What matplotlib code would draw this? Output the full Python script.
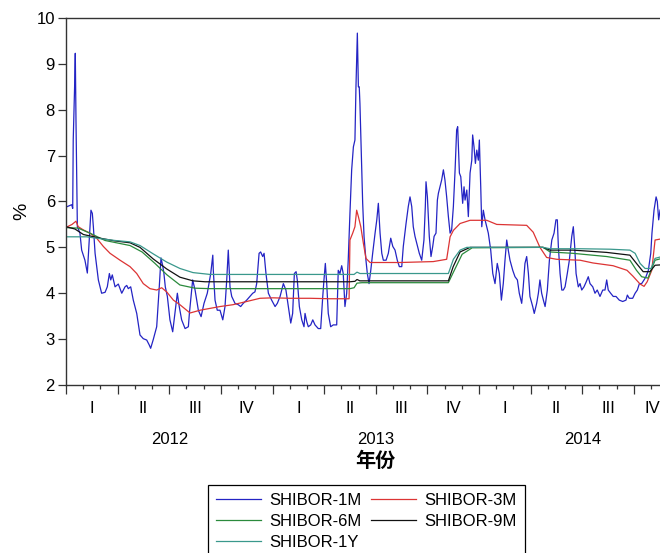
import matplotlib
matplotlib.use("Agg")
import matplotlib.pyplot as plt
import matplotlib.transforms as mtransforms
from matplotlib.ticker import MultipleLocator, NullFormatter

plt.rcParams["font.family"] = ["Liberation Sans", "DejaVu Sans"]

# time axis: months since 2012-01-01
t_1m = [0.08, 0.33, 0.39, 0.42, 0.50, 0.54, 0.58, 0.62, 0.66, 0.81,
        0.91, 1.10, 1.24, 1.35, 1.45, 1.53, 1.59, 1.69, 1.88, 2.07,
        2.27, 2.40, 2.52, 2.60, 2.69, 2.85, 3.04, 3.24, 3.43, 3.53,
        3.62, 3.76, 3.91, 4.11, 4.30, 4.49, 4.69, 4.84, 4.92, 5.07,
        5.27, 5.42, 5.52, 5.62, 5.69, 5.77, 5.89, 6.04, 6.20, 6.33,
        6.47, 6.58, 6.72, 6.92, 7.11, 7.17, 7.36, 7.50, 7.69, 7.85,
        8.02, 8.21, 8.41, 8.53, 8.56, 8.66, 8.79, 8.95, 9.11, 9.24,
        9.34, 9.43, 9.53, 9.63, 9.82, 10.01, 10.15, 10.30, 10.50, 10.69,
        10.85, 10.98, 11.08, 11.22, 11.31, 11.43, 11.51, 11.62, 11.76, 11.95,
        12.15, 12.28, 12.44, 12.63, 12.78, 12.92, 13.06, 13.17, 13.27, 13.37,
        13.44, 13.56, 13.70, 13.83, 13.89, 13.99, 14.08, 14.22, 14.34, 14.47,
        14.66, 14.80, 14.92, 14.99, 15.07, 15.15, 15.24, 15.38, 15.53, 15.73,
        15.82, 15.92, 16.02, 16.11, 16.21, 16.31, 16.40, 16.50, 16.60, 16.70,
        16.79, 16.85, 16.93, 16.99, 17.04, 17.08, 17.16, 17.24, 17.32, 17.43,
        17.51, 17.61, 17.71, 17.82, 17.96, 18.06, 18.15, 18.25, 18.35, 18.44,
        18.60, 18.73, 18.87, 18.99, 19.12, 19.25, 19.37, 19.51, 19.60, 19.76,
        19.89, 19.99, 20.09, 20.18, 20.28, 20.38, 20.53, 20.67, 20.80, 20.88,
        20.92, 21.00, 21.11, 21.21, 21.31, 21.39, 21.50, 21.58, 21.64, 21.73,
        21.83, 21.93, 22.02, 22.12, 22.22, 22.32, 22.41, 22.51, 22.61, 22.70,
        22.76, 22.86, 22.94, 23.05, 23.13, 23.19, 23.29, 23.38, 23.48, 23.58,
        23.63, 23.71, 23.79, 23.87, 23.96, 24.02, 24.10, 24.16, 24.25, 24.35,
        24.54, 24.68, 24.80, 24.93, 25.06, 25.18, 25.30, 25.41, 25.51, 25.61,
        25.70, 25.80, 25.96, 26.09, 26.23, 26.34, 26.48, 26.57, 26.67, 26.77,
        26.87, 26.96, 27.12, 27.21, 27.35, 27.45, 27.54, 27.64, 27.74, 27.84,
        27.97, 28.09, 28.23, 28.36, 28.47, 28.55, 28.61, 28.71, 28.81, 28.90,
        29.00, 29.13, 29.25, 29.39, 29.48, 29.56, 29.64, 29.77, 29.87, 29.97,
        30.10, 30.22, 30.35, 30.45, 30.61, 30.74, 30.87, 31.03, 31.19, 31.32,
        31.42, 31.51, 31.65, 31.80, 31.96, 32.15, 32.35, 32.54, 32.62, 32.73,
        32.93, 33.07, 33.20, 33.32, 33.45, 33.59, 33.70, 33.84, 33.98, 34.05,
        34.17, 34.29, 34.36, 34.44, 34.52, 34.63]
shibor_1m = [5.89, 5.93, 5.85, 7.34, 8.50, 9.23, 7.78, 6.62, 5.45, 5.31,
             4.94, 4.72, 4.44, 5.16, 5.81, 5.74, 5.45, 4.87, 4.29, 4.00,
             4.02, 4.14, 4.43, 4.29, 4.40, 4.14, 4.20, 4.00, 4.14, 4.17,
             4.10, 4.14, 3.85, 3.56, 3.09, 3.01, 2.98, 2.87, 2.80, 2.99,
             3.27, 4.14, 4.77, 4.60, 4.43, 4.14, 3.93, 3.42, 3.16, 3.56,
             4.00, 3.71, 3.42, 3.23, 3.27, 3.56, 4.29, 4.07, 3.63, 3.49,
             3.78, 4.00, 4.43, 4.83, 4.50, 3.85, 3.63, 3.63, 3.42, 3.71,
             4.29, 4.94, 4.14, 3.93, 3.78, 3.75, 3.71, 3.78, 3.85, 3.93,
             4.00, 4.03, 4.21, 4.87, 4.90, 4.80, 4.87, 4.43, 4.00, 3.85,
             3.71, 3.78, 3.93, 4.21, 4.07, 3.71, 3.35, 3.56, 4.43, 4.47,
             4.29, 3.71, 3.42, 3.27, 3.56, 3.38, 3.27, 3.31, 3.42, 3.31,
             3.23, 3.23, 3.93, 4.29, 4.65, 4.21, 3.56, 3.27, 3.31, 3.31,
             4.50, 4.43, 4.60, 4.43, 3.71, 4.00, 4.72, 5.74, 6.69, 7.19,
             7.34, 8.50, 9.67, 8.50, 8.50, 8.14, 7.05, 5.96, 5.23, 4.72,
             4.43, 4.21, 4.50, 4.87, 5.31, 5.60, 5.96, 5.31, 4.87, 4.72,
             4.72, 4.87, 5.20, 5.02, 4.94, 4.72, 4.58, 4.58, 5.02, 5.52,
             5.89, 6.10, 5.89, 5.45, 5.24, 5.09, 4.87, 4.72, 5.16, 5.89,
             6.43, 6.10, 5.24, 4.80, 5.02, 5.24, 5.31, 6.03, 6.18, 6.32,
             6.47, 6.69, 6.47, 6.10, 5.67, 5.31, 5.38, 5.89, 6.69, 7.56,
             7.63, 6.62, 6.54, 5.96, 6.32, 6.03, 6.25, 5.67, 6.62, 6.90,
             7.45, 7.19, 6.83, 7.12, 6.90, 7.34, 6.32, 5.45, 5.81, 5.60,
             5.31, 4.94, 4.43, 4.21, 4.65, 4.43, 3.85, 4.21, 4.72, 5.16,
             4.94, 4.72, 4.50, 4.36, 4.29, 4.00, 3.78, 4.14, 4.65, 4.80,
             4.43, 3.93, 3.71, 3.56, 3.78, 4.00, 4.29, 4.00, 3.85, 3.71,
             4.07, 4.72, 5.16, 5.31, 5.60, 5.60, 5.02, 4.43, 4.07, 4.07,
             4.14, 4.43, 4.72, 5.24, 5.45, 5.02, 4.43, 4.14, 4.21, 4.07,
             4.14, 4.24, 4.36, 4.21, 4.14, 4.00, 4.07, 3.93, 4.07, 4.07,
             4.29, 4.07, 4.00, 3.93, 3.93, 3.85, 3.82, 3.85, 3.96, 3.89,
             3.89, 4.00, 4.07, 4.21, 4.21, 4.29, 4.36, 4.50, 4.87, 5.31,
             5.81, 6.10, 6.00, 5.60, 5.81, 5.90]

t_3m = [0.08, 0.35, 0.58, 0.71, 1.01, 1.39, 1.78, 2.17, 2.56, 3.14,
        3.72, 4.11, 4.49, 4.88, 5.27, 5.56, 5.85, 6.24, 6.62, 7.01,
        7.21, 7.79, 8.37, 8.95, 9.70, 10.50, 11.27, 12.03, 13.02, 14.18,
        15.34, 16.45, 16.50, 16.66, 16.79, 16.89, 16.99, 17.13, 17.28, 17.43,
        17.67, 18.25, 19.41, 21.34, 22.12, 22.32, 22.51, 22.90, 23.48, 24.45,
        25.03, 26.77, 27.15, 27.54, 27.93, 28.51, 29.87, 30.62, 31.79, 32.60,
        32.95, 33.36, 33.59, 33.77, 34.04, 34.23, 34.52, 34.63]
shibor_3m = [5.45, 5.50, 5.57, 5.45, 5.38, 5.31, 5.20, 5.02, 4.87, 4.72,
             4.58, 4.43, 4.21, 4.10, 4.07, 4.12, 4.03, 3.85, 3.75, 3.63,
             3.57, 3.63, 3.67, 3.71, 3.75, 3.82, 3.89, 3.90, 3.89, 3.89,
             3.88, 3.88, 5.16, 5.31, 5.45, 5.81, 5.67, 5.45, 5.09, 4.76,
             4.67, 4.67, 4.67, 4.69, 4.74, 5.23, 5.37, 5.52, 5.59, 5.59,
             5.50, 5.48, 5.33, 5.00, 4.78, 4.74, 4.72, 4.66, 4.60, 4.50,
             4.37, 4.20, 4.15, 4.25, 4.50, 5.16, 5.18, 5.18]

t_6m = [0.0, 0.70, 1.39, 2.27, 3.72, 4.42, 5.17, 5.87, 6.62, 7.50,
        8.37, 16.50, 16.74, 16.91, 17.20, 22.22, 22.50, 23.02, 23.60, 27.72,
        28.13, 29.46, 31.42, 32.77, 33.15, 33.45, 33.82, 34.23, 34.63]
shibor_6m = [5.43, 5.42, 5.31, 5.15, 5.04, 4.90, 4.65, 4.40, 4.18, 4.11,
             4.10, 4.10, 4.12, 4.22, 4.23, 4.23, 4.45, 4.85, 4.99, 5.00,
             4.90, 4.87, 4.80, 4.72, 4.50, 4.36, 4.33, 4.72, 4.76]

t_9m = [0.0, 0.52, 1.01, 1.98, 2.85, 3.72, 4.30, 5.06, 5.85, 6.62,
        7.38, 8.08, 16.50, 16.79, 16.91, 17.08, 22.22, 22.50, 22.90, 23.48,
        27.72, 28.13, 29.46, 31.42, 32.77, 33.15, 33.54, 33.93, 34.23, 34.63]
shibor_9m = [5.45, 5.40, 5.28, 5.20, 5.14, 5.10, 5.00, 4.75, 4.53, 4.35,
             4.27, 4.25, 4.25, 4.26, 4.30, 4.27, 4.27, 4.58, 4.90, 5.00,
             5.00, 4.94, 4.94, 4.89, 4.83, 4.65, 4.47, 4.47, 4.61, 4.62]

t_1y = [0.0, 1.20, 1.98, 2.85, 3.72, 4.30, 5.06, 5.85, 6.62, 7.38,
        8.37, 16.50, 16.74, 16.91, 17.08, 22.22, 22.51, 22.90, 23.29, 27.72,
        28.13, 29.87, 31.61, 32.77, 33.07, 33.36, 33.65, 34.00, 34.23, 34.63]
shibor_1y = [5.23, 5.23, 5.19, 5.15, 5.12, 5.04, 4.86, 4.68, 4.54, 4.45,
             4.41, 4.41, 4.41, 4.46, 4.43, 4.43, 4.74, 4.94, 5.00, 5.00,
             4.97, 4.97, 4.96, 4.94, 4.87, 4.65, 4.54, 4.54, 4.76, 4.80]

quarter_labels = ["I", "II", "III", "IV"] * 3
quarter_pos = [1.5, 4.5, 7.5, 10.5, 13.5, 16.5, 19.5, 22.5, 25.5, 28.5, 31.5, 34.05]
year_labels = ["2012", "2013", "2014"]
year_pos = [6, 18, 30]

fig = plt.figure(figsize=(6.6, 5.53), dpi=100)
# the axes run a little past the right edge, like the cropped original
ax = fig.add_axes([0.1, 0.3038, 0.9152, 0.6637])

lw = 0.9
l1, = ax.plot(t_1m, shibor_1m, color="#2424c4", lw=lw, label="SHIBOR-1M")
l3, = ax.plot(t_3m, shibor_3m, color="#dc3434", lw=lw, label="SHIBOR-3M")
l6, = ax.plot(t_6m, shibor_6m, color="#2a8a3c", lw=lw, label="SHIBOR-6M")
l9, = ax.plot(t_9m, shibor_9m, color="#111111", lw=lw, label="SHIBOR-9M")
l12, = ax.plot(t_1y, shibor_1y, color="#3a988c", lw=lw, label="SHIBOR-1Y")

ax.set_xlim(0, 35.1)
ax.set_ylim(2, 10)
ax.set_yticks(range(2, 11))
ax.xaxis.set_major_locator(MultipleLocator(3))
ax.xaxis.set_minor_locator(MultipleLocator(1))
ax.xaxis.set_major_formatter(NullFormatter())
ax.tick_params(axis="x", which="major", direction="out", length=6.5, width=0.9, color="#333333")
ax.tick_params(axis="x", which="minor", direction="out", length=3, width=0.9, color="#333333")
ax.tick_params(axis="y", direction="out", length=5.5, width=0.9, color="#333333",
               labelsize=12, pad=2.5)
for side in ["left", "top", "bottom"]:
    ax.spines[side].set_color("#333333")
    ax.spines[side].set_linewidth(1.0)
ax.spines["right"].set_visible(False)

trans = mtransforms.blended_transform_factory(ax.transData, fig.transFigure)
for pos, lab in zip(quarter_pos, quarter_labels):
    ax.text(pos, 0.2604, lab, transform=trans, ha="center", va="center", fontsize=12, clip_on=False)
for pos, lab in zip(year_pos, year_labels):
    ax.text(pos, 0.2061, lab, transform=trans, ha="center", va="center", fontsize=12, clip_on=False)
ax.text(18, 0.1669, "年份", transform=trans, ha="center", va="center", fontsize=14.5,
        fontweight="bold", family=["Noto Sans CJK SC", "DejaVu Sans"], clip_on=False)

fig.text(22 / 660, 1 - 211 / 553, "%", rotation=90, ha="center", va="center", fontsize=14)

handles = [l1, l6, l12, l3, l9]
leg = fig.legend(handles, [h.get_label() for h in handles], loc="upper center",
                 bbox_to_anchor=(0.5553, 0.1230), bbox_transform=fig.transFigure,
                 ncol=2, fontsize=12, frameon=True, fancybox=False, framealpha=1,
                 edgecolor="black", handlelength=2.7, handletextpad=0.5,
                 columnspacing=0.6, labelspacing=0.35, borderpad=0.5, borderaxespad=0)
leg.get_frame().set_linewidth(0.9)

fig.savefig("out.png", dpi=100)
